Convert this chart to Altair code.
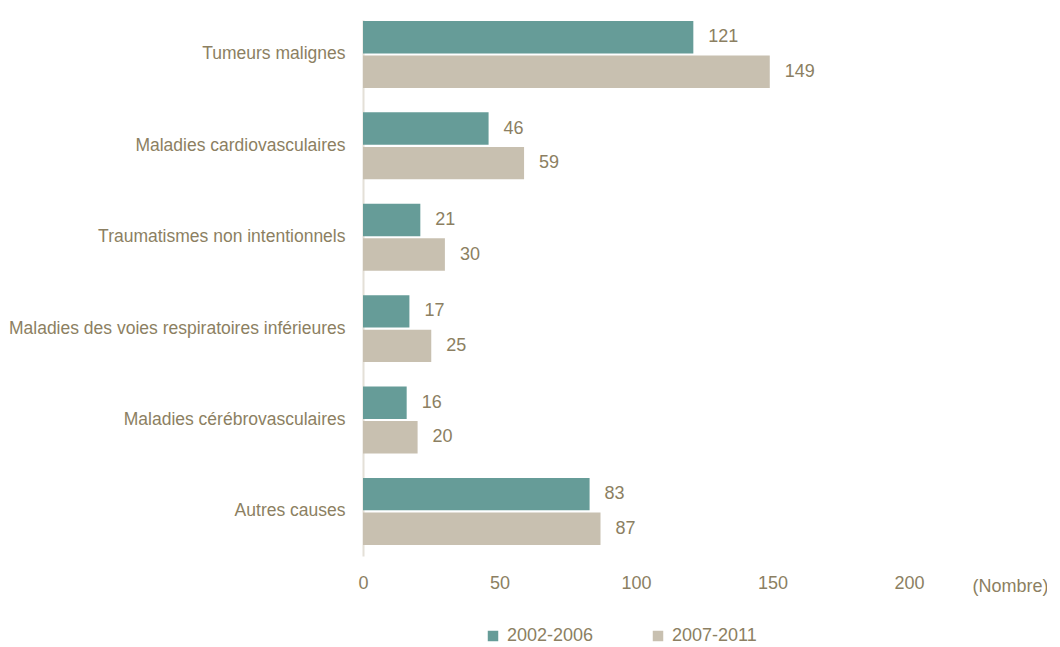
import altair as alt
import pandas as pd

categories = [
    "Tumeurs malignes",
    "Maladies cardiovasculaires",
    "Traumatismes non intentionnels",
    "Maladies des voies respiratoires inférieures",
    "Maladies cérébrovasculaires",
    "Autres causes",
]
periods = ["2002-2006", "2007-2011"]
values_2002_2006 = [121, 46, 21, 17, 16, 83]
values_2007_2011 = [149, 59, 30, 25, 20, 87]
colors = ["#669c98", "#c8c0b0"]

rows = []
for c, a, b in zip(categories, values_2002_2006, values_2007_2011):
    rows.append({"cause": c, "periode": periods[0], "nombre": a})
    rows.append({"cause": c, "periode": periods[1], "nombre": b})
df = pd.DataFrame(rows)

TXT = "#8c7f62"
FONT = "Liberation Sans"

y_enc = alt.Y(
    "cause:N",
    sort=categories,
    scale=alt.Scale(paddingInner=0.267, paddingOuter=0.066, align=0.08),
    axis=alt.Axis(
        title=None,
        labelFontSize=17.5,
        labelColor=TXT,
        labelFont=FONT,
        labelPadding=18,
        labelLimit=500,
        ticks=False,
        domainColor="#e4e0d7",
        domainWidth=2,
    ),
)
yoff = alt.YOffset("periode:N", sort=periods, scale=alt.Scale(paddingInner=0.06))

x_enc = alt.X(
    "nombre:Q",
    scale=alt.Scale(domain=[0, 200], nice=False),
    axis=alt.Axis(
        values=[0, 50, 100, 150, 200],
        title="(Nombre)",
        titleX=685,
        titleY=30,
        titleAlign="right",
        titleBaseline="middle",
        titleAngle=0,
        titleFont=FONT,
        titleFontSize=18,
        titleFontWeight="normal",
        titleColor=TXT,
        labelFont=FONT,
        labelFontSize=18,
        labelColor=TXT,
        labelPadding=18,
        labelFlush=False,
        ticks=False,
        domain=False,
        grid=False,
    ),
)

bars = alt.Chart(df).mark_bar().encode(
    x=x_enc,
    y=y_enc,
    yOffset=yoff,
    color=alt.Color(
        "periode:N",
        sort=periods,
        scale=alt.Scale(domain=periods, range=colors),
        legend=alt.Legend(
            title=None,
            orient="none",
            legendX=121,
            legendY=607,
            direction="horizontal",
            symbolType="square",
            symbolSize=110,
            symbolStrokeWidth=0,
            labelFont=FONT,
            labelFontSize=18,
            labelColor=TXT,
            labelOffset=5,
            columnPadding=55,
        ),
    ),
)

labels = alt.Chart(df).mark_text(
    align="left", baseline="middle", dx=15, font=FONT, fontSize=18, color=TXT
).encode(
    x="nombre:Q",
    y=alt.Y("cause:N", sort=categories),
    yOffset=alt.YOffset("periode:N", sort=periods),
    text="nombre:Q",
)

chart = (
    alt.layer(bars, labels)
    .properties(
        width=546,
        height=536,
        autosize=alt.AutoSizeParams(type="none"),
        padding={"left": 355, "top": 12, "right": 138, "bottom": 90},
    )
    .configure(background="white")
    .configure_view(strokeWidth=0)
)

chart.save("out.html", embed_options={"renderer": "svg", "actions": False})
